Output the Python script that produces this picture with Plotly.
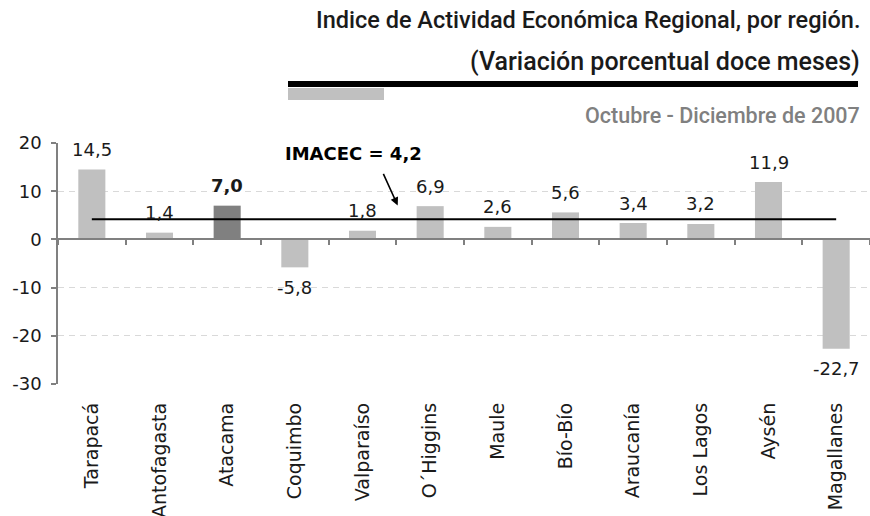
import plotly.graph_objects as go

regions = ["Tarapacá", "Antofagasta", "Atacama", "Coquimbo", "Valparaíso", "O´Higgins",
           "Maule", "Bío-Bío", "Araucanía", "Los Lagos", "Aysén", "Magallanes"]
values = [14.5, 1.4, 7.0, -5.8, 1.8, 6.9, 2.6, 5.6, 3.4, 3.2, 11.9, -22.7]
highlight = "Atacama"
imacec = 4.2
ytick_vals = [-30, -20, -10, 0, 10, 20]
ytick_text = ["-30", "-20", "-10", "0", "10", "20"]

title_line1 = "Indice de Actividad Económica Regional, por región."
title_line2 = "(Variación porcentual doce meses)"
subtitle = "Octubre - Diciembre de 2007"
imacec_label = "IMACEC = 4,2"

LIGHT = "#C0C0C0"
DARK = "#808080"
TXT = "#1a1a1a"
FONT = "DejaVu Sans"
TFONT = "Roboto, Liberation Sans, Arial"

W, H = 870, 516
ML, MR, MT, MB = 58, 0, 143, 132
PW, PH = W - ML - MR, H - MT - MB

def px(x, y):
    """figure pixel -> paper (plot-area) fraction"""
    return (x - ML) / PW, (H - MB - y) / PH

colors = [DARK if r == highlight else LIGHT for r in regions]

fig = go.Figure()
fig.add_trace(go.Bar(x=regions, y=values, marker=dict(color=colors, line=dict(width=0)),
                     hoverinfo="skip", showlegend=False))
fig.add_trace(go.Scatter(x=[regions[0], regions[-1]], y=[imacec, imacec], mode="lines",
                         line=dict(color="black", width=2), hoverinfo="skip", showlegend=False))
# invisible trace driving the zero-line axis with boundary ticks
fig.add_trace(go.Scatter(x=regions, y=values, xaxis="x2", mode="markers",
                         marker=dict(opacity=0), hoverinfo="skip", showlegend=False))

ann = []
for r, v in zip(regions, values):
    txt = f"{v:.1f}".replace(".", ",")
    if r == highlight:
        txt = f"<b>{txt}</b>"
    ann.append(dict(x=r, y=v, xref="x", yref="y", text=txt, showarrow=False,
                    yanchor="middle", yshift=20 if v >= 0 else -20,
                    font=dict(family=FONT, size=18, color=TXT)))

# IMACEC label and arrow
ann.append(dict(x=3.86, y=17.8, xref="x", yref="y", text=f"<b>{imacec_label}</b>",
                showarrow=False, font=dict(family=FONT, size=18, color="black")))
ann.append(dict(x=4.52, y=7.05, xref="x", yref="y", text="", showarrow=True,
                ax=-15, ay=-33, arrowhead=2, arrowsize=1, arrowwidth=1.6, arrowcolor="black"))

titles = [
    (title_line1, 20, 23.5, TXT),
    (title_line2, 61, 25, TXT),
    (subtitle, 115, 21.5, "#808080"),
]
for t, yc, sz, col in titles:
    xx, yy = px(862, yc)
    ann.append(dict(x=xx, y=yy, xref="paper", yref="paper", text=t, showarrow=False,
                    xanchor="right", yanchor="middle",
                    font=dict(family=TFONT, size=sz, color=col, weight=500)))

x0, y0 = px(288, 87)
x1, y1 = px(858, 81)
gx0, gy0 = px(288, 100)
gx1, gy1 = px(384, 88)
shapes = [
    dict(type="rect", xref="paper", yref="paper", x0=x0, x1=x1, y0=y0, y1=y1,
         fillcolor="black", line=dict(width=0), layer="above"),
    dict(type="rect", xref="paper", yref="paper", x0=gx0, x1=gx1, y0=gy0, y1=gy1,
         fillcolor=LIGHT, line=dict(width=0), layer="above"),
]

fig.update_layout(
    width=W, height=H,
    margin=dict(l=ML, r=MR, t=MT, b=MB, autoexpand=False),
    plot_bgcolor="white", paper_bgcolor="white",
    bargap=0.6,
    annotations=ann, shapes=shapes,
    xaxis=dict(type="category", categoryorder="array", categoryarray=regions,
               range=[-0.5, 11.5], showgrid=False, zeroline=False, showline=False,
               ticks="", tickangle=-90, ticklabelstandoff=14, automargin=False,
               tickfont=dict(family=FONT, size=19, color=TXT)),
    xaxis2=dict(type="category", categoryorder="array", categoryarray=regions,
                range=[-0.5, 11.5], overlaying="x", anchor="free", position=0.6,
                side="bottom", showline=True, linecolor=DARK, linewidth=1.5,
                ticks="outside", tickson="boundaries", ticklen=5, tickcolor=DARK,
                tickwidth=1.5, showticklabels=False, showgrid=False, zeroline=False),
    yaxis=dict(range=[-30, 20], tickvals=ytick_vals, ticktext=ytick_text,
               showgrid=True, gridcolor="#D9D9D9", griddash="6px,5px", gridwidth=1.2,
               zeroline=False, showline=True, linecolor=DARK, linewidth=1.5,
               ticks="outside", ticklen=5, tickcolor=DARK, tickwidth=1.5,
               ticklabelstandoff=6, automargin=False,
               tickfont=dict(family=FONT, size=18, color=TXT)),
)

fig.write_html("out.html", config={"displayModeBar": False},
               post_script="document.body.style.margin='0px';")
